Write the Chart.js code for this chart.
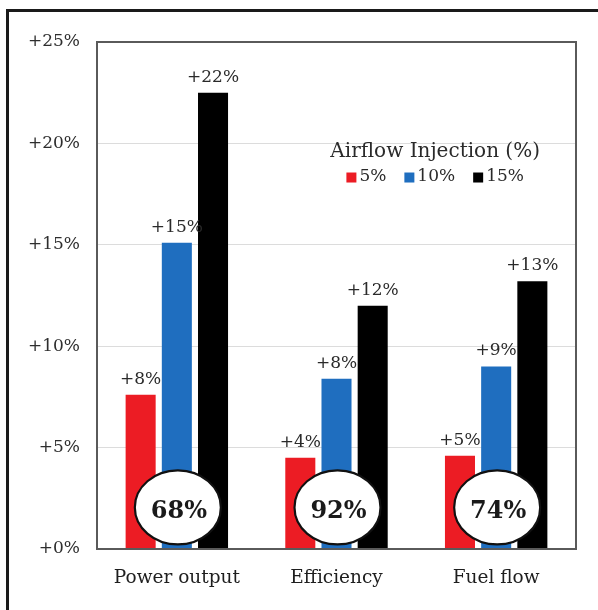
<!DOCTYPE html>
<html>
<head>
<meta charset="utf-8">
<script src="https://cdn.jsdelivr.net/npm/chart.js@4"></script>
<style>
  html, body { margin: 0; padding: 0; background: #fff; overflow: hidden; }
  #wrap { position: relative; width: 598px; height: 610px; }
  #frame { position: absolute; left: 6px; top: 9px; width: 1000px; height: 1000px;
           border: 3px solid #1a1a1a; pointer-events: none; }
</style>
</head>
<body>
<div id="wrap">
  <canvas id="chart" width="598" height="610"></canvas>
  <div id="frame"></div>
</div>
<script>
// values (percent change)
const categories = ['Power output', 'Efficiency', 'Fuel flow'];
const seriesNames = ['5%', '10%', '15%'];
const inj5 = [7.6, 4.5, 4.6];
const inj10 = [15.1, 8.4, 9.0];
const inj15 = [22.5, 12.0, 13.2];
const labels5 = ['+8%', '+4%', '+5%'];
const labels10 = ['+15%', '+8%', '+9%'];
const labels15 = ['+22%', '+12%', '+13%'];
const ratioLabels = ['68%', '92%', '74%'];
const yTickLabels = ['+0%', '+5%', '+10%', '+15%', '+20%', '+25%'];
const legendTitle = 'Airflow Injection (%)';

const colors = ['#ec1c24', '#1f6ebf', '#000000'];
const valueLabels = [labels5, labels10, labels15];
const FONT = '"DejaVu Serif", serif';

const overlay = {
  id: 'overlay',
  afterDatasetsDraw(chart) {
    const ctx = chart.ctx;
    const area = chart.chartArea;
    const xs = chart.scales.x, ys = chart.scales.y;
    ctx.save();

    // value labels above bars
    ctx.font = '17px ' + FONT;
    ctx.fillStyle = '#2a2a2a';
    ctx.textAlign = 'center';
    ctx.textBaseline = 'bottom';
    chart.data.datasets.forEach((ds, di) => {
      chart.getDatasetMeta(di).data.forEach((bar, i) => {
        ctx.fillText(valueLabels[di][i], bar.x, bar.y - 7);
      });
    });

    // plot frame
    ctx.strokeStyle = '#5a5a5a';
    ctx.lineWidth = 2;
    ctx.strokeRect(area.left, area.top, area.right - area.left, area.bottom - area.top);

    // ellipses with ratio labels
    ratioLabels.forEach((txt, i) => {
      const cx = xs.getPixelForValue(i) + 1;
      const cy = ys.getPixelForValue(2.05);
      ctx.beginPath();
      ctx.ellipse(cx, cy, 43, 37, 0, 0, Math.PI * 2);
      ctx.fillStyle = '#fff';
      ctx.fill();
      ctx.lineWidth = 2.2;
      ctx.strokeStyle = '#111';
      ctx.stroke();
      ctx.fillStyle = '#1a1a1a';
      ctx.font = 'bold 24px ' + FONT;
      ctx.textAlign = 'center';
      ctx.textBaseline = 'middle';
      ctx.fillText(txt, cx + 1, cy + 4);
    });

    // legend inside plot
    const lx = area.left + (area.right - area.left) * 0.706;
    const ly = ys.getPixelForValue(19.6);
    ctx.fillStyle = '#2a2a2a';
    ctx.font = '20px ' + FONT;
    ctx.textAlign = 'center';
    ctx.textBaseline = 'middle';
    ctx.fillText(legendTitle, lx, ly);

    ctx.font = '17px ' + FONT;
    const box = 10, gapBox = 3, gapItem = 18;
    const widths = seriesNames.map(s => ctx.measureText(s).width);
    let total = 0;
    widths.forEach((w, i) => { total += box + gapBox + w + (i < widths.length - 1 ? gapItem : 0); });
    let x = lx - total / 2;
    const rowY = ly + 25;
    ctx.textAlign = 'left';
    seriesNames.forEach((s, i) => {
      ctx.fillStyle = colors[i];
      ctx.fillRect(x, rowY - box / 2 + 1, box, box);
      x += box + gapBox;
      ctx.fillStyle = '#2a2a2a';
      ctx.fillText(s, x, rowY);
      x += widths[i] + gapItem;
    });

    ctx.restore();
  }
};

new Chart(document.getElementById('chart').getContext('2d'), {
  type: 'bar',
  data: {
    labels: categories,
    datasets: [
      { label: seriesNames[0], data: inj5, backgroundColor: colors[0] },
      { label: seriesNames[1], data: inj10, backgroundColor: colors[1] },
      { label: seriesNames[2], data: inj15, backgroundColor: colors[2] }
    ]
  },
  options: {
    responsive: false,
    animation: false,
    layout: { padding: { top: 42, right: 22, left: 0, bottom: 0 } },
    datasets: { bar: { categoryPercentage: 0.68, barPercentage: 0.83 } },
    plugins: { legend: { display: false }, tooltip: { enabled: false } },
    scales: {
      x: {
        grid: { display: false, drawTicks: false },
        border: { display: false },
        ticks: { padding: 18, color: '#1e1e1e', font: { family: FONT, size: 18.5 } },
        afterFit(scale) { scale.height = 61; }
      },
      y: {
        min: 0,
        max: 25,
        grid: { color: '#dcdcdc', lineWidth: 1, drawTicks: false },
        border: { display: false },
        ticks: {
          stepSize: 5,
          padding: 17,
          color: '#2e2e2e',
          font: { family: FONT, size: 17 },
          callback: (v, i) => yTickLabels[i]
        },
        afterFit(scale) { scale.width = 97; }
      }
    }
  },
  plugins: [overlay]
});
</script>
</body>
</html>
